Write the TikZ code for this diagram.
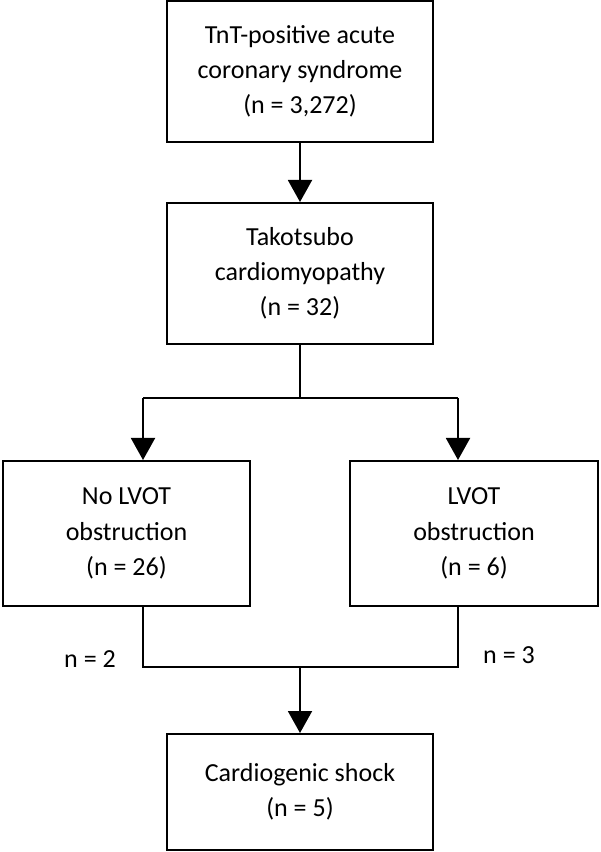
\documentclass[tikz,border=0pt]{standalone}
\usepackage{fontspec}
\setmainfont{Carlito}
\usetikzlibrary{arrows.meta}

\tikzset{
	box/.style={rectangle, draw=black, line width=1.4pt, align=center, inner sep=2pt,
		font=\fontsize{18.5}{25}\selectfont},
	flow/.style={line width=1.4pt, -{Triangle[width=0.6cm,length=0.55cm]}},
	link/.style={line width=1.4pt},
	count/.style={font=\fontsize{18.5}{25}\selectfont}
}

\begin{document}
\begin{tikzpicture}[x=0.025cm, y=-0.025cm]

	\useasboundingbox	(0,0)	rectangle	(600,852);

	\node 	(b1)		at	(300,71.5) 	[box, minimum width=6.65cm, minimum height=3.525cm]{TnT-positive acute\\coronary syndrome\\(n = 3,272)};

	\node 	(b2)		at	(300,273.5) 	[box, minimum width=6.65cm, minimum height=3.525cm]{Takotsubo\\cardiomyopathy\\(n = 32)};

	\node 	(b3)		at	(126.5,533.5) 	[box, minimum width=6.175cm, minimum height=3.625cm]{No LVOT\\obstruction\\(n = 26)};

	\node 	(b4)		at	(474,533.5) 	[box, minimum width=6.2cm, minimum height=3.625cm]{LVOT\\obstruction\\(n = 6)};

	\node 	(b5)		at	(300,792) 	[box, minimum width=6.65cm, minimum height=2.9cm]{Cardiogenic shock\\(n = 5)};

	% split and join points
	\coordinate	(s0)	at	(300,398);
	\coordinate	(s1)	at	(143,398);
	\coordinate	(s2)	at	(458,398);
	\coordinate	(j0)	at	(300,667);
	\coordinate	(j1)	at	(143,667);
	\coordinate	(j2)	at	(458,667);

	\node 	(n2)		at	(90,659) 	[count]{n = 2};
	\node 	(n3)		at	(509,655) 	[count]{n = 3};

	\draw[flow]	(b1)	--	(b2);
	\draw[link]	(b2)	--	(s0);
	\draw[link]	(s1)	--	(s2);
	\draw[flow]	(s1)	--	(s1 |- b3.north);
	\draw[flow]	(s2)	--	(s2 |- b4.north);

	\draw[link]	(j1 |- b3.south)	--	(j1)	--	(j2)	--	(j2 |- b4.south);
	\draw[flow]	(j0)	--	(b5);

\end{tikzpicture}
\end{document}
